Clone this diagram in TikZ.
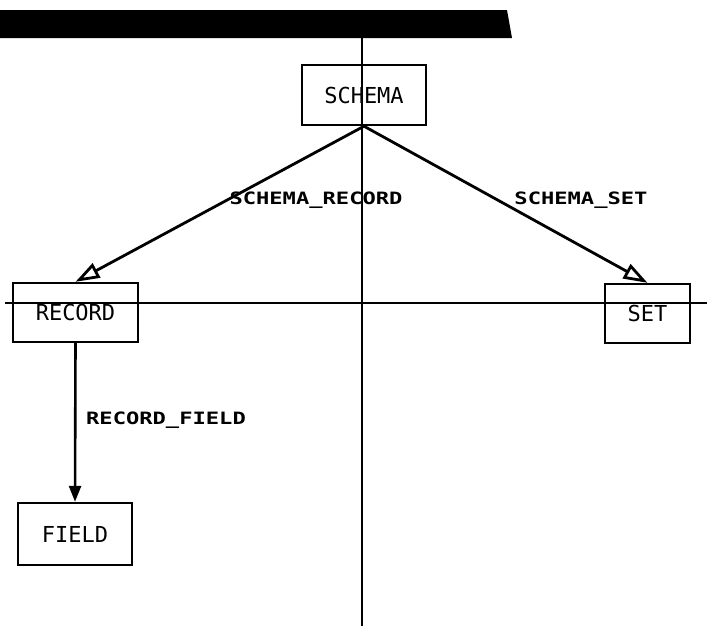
\documentclass[tikz,border=0pt]{standalone}
\usepackage{fontspec}
\usepackage{tikz}
\usetikzlibrary{positioning,arrows.meta}
\newfontfamily\boxfont{DejaVu Sans Mono}
\newfontfamily\relfont[FakeStretch=1.3]{DejaVu Sans Mono Bold}

\tikzset{
  entity/.style={draw, line width=1.2pt, inner sep=0pt, font=\boxfont\fontsize{11}{13}\selectfont},
  rel/.style={font=\relfont\fontsize{8.5}{10}\selectfont, inner sep=0pt},
  axis/.style={line width=1pt},
  owns/.style={line width=1.4pt, -{Triangle[open, length=12pt, width=8pt]}},
  has/.style={line width=1.3pt, -{Triangle[length=8pt, width=6pt]}}
}

\begin{document}
\begin{tikzpicture}[x=0.5pt, y=-0.5pt]
\useasboundingbox (0,0) rectangle (707,628);
% title bar
\fill (0,10) -- (507,10) -- (512,38) -- (0,38) -- cycle;
% axes
\coordinate (top) at (362,38);
\coordinate (bottom) at (362,626);
\coordinate (left) at (5,303);
\coordinate (right) at (707,303);
\draw[axis] (top) -- (bottom);
\draw[axis] (left) -- (right);
% record types
\node[entity, minimum width=62pt, minimum height=30pt] (schema) at (364,95) {SCHEMA};
\node[entity, minimum width=62.5pt, minimum height=29.5pt] (record) at (75.5,312.5) {RECORD};
\node[entity, minimum width=42.5pt, minimum height=29.5pt] (set) at (647.5,313.5) {SET};
\node[entity, minimum width=57pt, minimum height=31pt] (field) at (75,534) {FIELD};
% set types
\draw[owns] (schema.south) -- (record.north);
\draw[owns] (schema.south) -- (set.north);
\draw[has] (record.south) -- (field.north);
\node[rel] (sr) at (316,200) {SCHEMA\_RECORD};
\node[rel] (ss) at (581,200) {SCHEMA\_SET};
\node[rel] (rf) at (166,420) {RECORD\_FIELD};
\end{tikzpicture}
\end{document}
